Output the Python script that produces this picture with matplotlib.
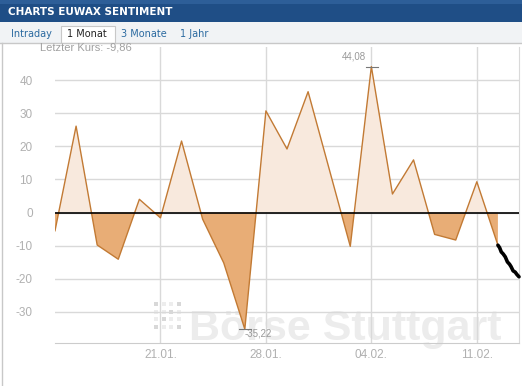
import numpy as np
import matplotlib
matplotlib.use("Agg")
import matplotlib.pyplot as plt
from matplotlib.patches import Rectangle
from matplotlib.lines import Line2D

# daily sentiment values (trading days, 31.01. has no point of its own)
dates = ['2013-01-14', '2013-01-15', '2013-01-16', '2013-01-17', '2013-01-18',
         '2013-01-21', '2013-01-22', '2013-01-23', '2013-01-24', '2013-01-25',
         '2013-01-28', '2013-01-29', '2013-01-30', '2013-02-01',
         '2013-02-04', '2013-02-05', '2013-02-06', '2013-02-07', '2013-02-08',
         '2013-02-11', '2013-02-12']
values = [-5.5, 26.1, -9.8, -14.1, 4.0,
          -1.6, 21.6, -2.0, -15.2, -35.22,
          30.7, 19.2, 36.5, -10.2,
          44.08, 5.6, 15.9, -6.6, -8.3,
          9.3, -9.86]

# intraday trace for 13.02. (fraction of the day after the 12.02. close)
intraday_t = [0.0, 0.08, 0.16, 0.25, 0.35, 0.45, 0.55, 0.62, 0.72, 0.82, 0.9, 1.0]
intraday_v = [-9.86, -10.6, -11.9, -12.5, -13.4, -14.9, -15.6, -16.3, -17.6, -18.0, -18.7, -19.4]

tick_dates = ['2013-01-21', '2013-01-28', '2013-02-04', '2013-02-11']
tick_labels = ['21.01.', '28.01.', '04.02.', '11.02.']
y_ticks = [-30, -20, -10, 0, 10, 20, 30, 40]

W, H = 522, 386

LINE = '#c27a34'
POS_FILL = '#f8e9dd'
NEG_FILL = '#e8ad76'
GRID = '#d9d9d9'
LABEL = '#b0b0b0'


def px(x, y):
    """pixel position (from top-left) -> figure fraction"""
    return x / W, 1 - y / H


fig = plt.figure(figsize=(W / 100, H / 100), dpi=100)

# header bar
fig.patches.append(Rectangle((0, 1 - 22 / H), 1, 22 / H, transform=fig.transFigure,
                             facecolor='#1f4e86', edgecolor='none', zorder=0))
fig.patches.append(Rectangle((0, 1 - 4 / H), 1, 4 / H, transform=fig.transFigure,
                             facecolor='#2d5e98', edgecolor='none', zorder=0))
fig.text(*px(8, 12), 'CHARTS EUWAX SENTIMENT', color='white', fontsize=7.5,
         fontweight='bold', va='center', ha='left', family='DejaVu Sans')

# tab row
fig.patches.append(Rectangle((0, 1 - 43 / H), 1, 21 / H, transform=fig.transFigure,
                             facecolor='#f1f3f5', edgecolor='none', zorder=0))
fig.lines.append(Line2D([0, 1], [1 - 43 / H] * 2, transform=fig.transFigure,
                        color='#c8c8c8', lw=1))
fig.patches.append(Rectangle(px(61, 43), 54 / W, 17 / H, transform=fig.transFigure,
                             facecolor='white', edgecolor='#c8c8c8', lw=0.8, zorder=1))
for label, xpos, col in [('Intraday', 11, '#2b6aa0'), ('1 Monat', 67, '#222222'),
                         ('3 Monate', 121, '#2b6aa0'), ('1 Jahr', 180, '#2b6aa0')]:
    fig.text(*px(xpos, 34), label, color=col, fontsize=7, va='center', ha='left',
             family='DejaVu Sans', zorder=3)

# outer frame of the widget
fig.lines.append(Line2D([2 / W, 2 / W], [0, 1 - 43 / H], transform=fig.transFigure,
                        color='#c8c8c8', lw=1))

# watermark (behind the chart)
for r in range(4):
    for c in range(4):
        shade = '#d8d8d8' if (r + c) % 3 == 0 else '#ededed'
        fig.patches.append(Rectangle(px(154 + c * 7.5, 306 + r * 7.5), 4 / W, 4 / H,
                                     transform=fig.transFigure, facecolor=shade,
                                     edgecolor='none', zorder=0.2))
fig.text(*px(189, 340), 'Börse Stuttgart', color='#ececec', fontsize=31,
         fontweight='bold', family='Liberation Sans', ha='left', va='baseline',
         zorder=0.2)

ax = fig.add_axes([55 / W, 1 - 343 / H, (519 - 55) / W, (343 - 47) / H])
ax.set_facecolor('none')
ax.set_zorder(1)

x = np.busday_count(dates[0], dates).astype(float)
y = np.array(values)

ax.fill_between(x, y, 0, where=y >= 0, interpolate=True, color=POS_FILL, lw=0, zorder=2)
ax.fill_between(x, y, 0, where=y <= 0, interpolate=True, color=NEG_FILL, lw=0, zorder=2)
ax.plot(x, y, color=LINE, lw=1, zorder=3)
ax.axhline(0, color='black', lw=1.2, zorder=4)

xi = x[-1] + np.array(intraday_t)
ax.plot(xi, intraday_v, color='black', lw=2.6, zorder=5, clip_on=False,
        solid_capstyle='round')

# max / min markers
imax, imin = int(np.argmax(y)), int(np.argmin(y))
ax.plot([x[imax] - 0.25, x[imax] + 0.3], [y[imax]] * 2, color='#777777', lw=0.8, zorder=6)
ax.annotate(f'{y[imax]:.2f}'.replace('.', ','), (x[imax], y[imax]), xytext=(-4, 4),
            textcoords='offset points', ha='right', va='bottom', fontsize=7,
            color='#999999', family='Liberation Sans')
ax.plot([x[imin] - 0.28, x[imin] + 0.28], [y[imin]] * 2, color='#777777', lw=0.8, zorder=6)
ax.annotate(f'{y[imin]:.2f}'.replace('.', ','), (x[imin], y[imin]), xytext=(0, -3),
            textcoords='offset points', ha='left', va='center', fontsize=7,
            color='#999999', family='Liberation Sans')

ax.set_xlim(0, 22.0)
ax.set_ylim(-39.4, 50.0)

ax.set_yticks(y_ticks)
ax.set_yticklabels([str(v) for v in y_ticks], family='Liberation Sans', fontsize=8.5,
                   color=LABEL)
ax.set_xticks(np.busday_count(dates[0], tick_dates))
ax.set_xticklabels(tick_labels, family='Liberation Sans', fontsize=8.5, color=LABEL)
ax.tick_params(axis='y', length=0, pad=16)
ax.tick_params(axis='x', length=0, pad=4)

ax.grid(True, color=GRID, lw=1, zorder=0)
ax.set_axisbelow(True)
for side in ['left', 'top']:
    ax.spines[side].set_visible(False)
ax.spines['bottom'].set_color('#cccccc')
ax.spines['right'].set_color(GRID)

fig.text(*px(40, 47), 'Letzter Kurs: -9,86', color='#a0a0a0', fontsize=8,
         family='Liberation Sans', ha='left', va='center', zorder=3)

fig.savefig('out.png', dpi=100)
